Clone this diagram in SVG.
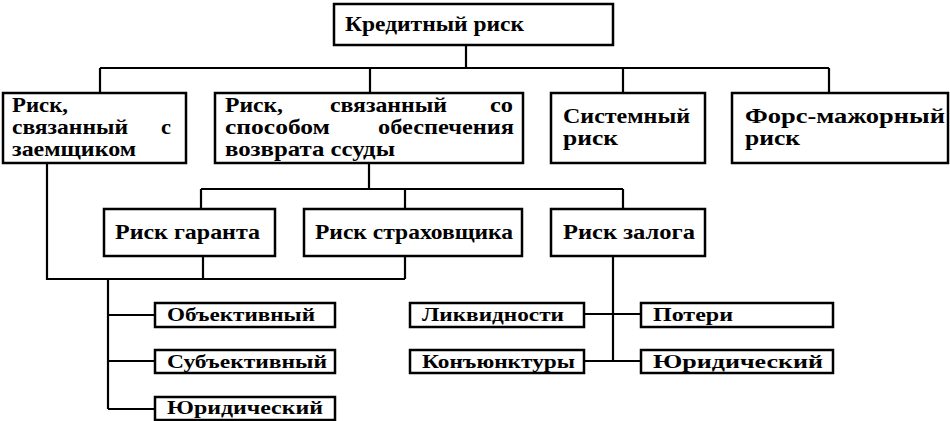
<svg xmlns="http://www.w3.org/2000/svg" width="950" height="421" viewBox="0 0 950 421">
<style>
  .box { fill: #fff; stroke: #000; stroke-width: 2.5; }
  .ln { fill: none; stroke: #000; stroke-width: 2.2; }
  text { font-family: "Liberation Serif", "Times New Roman", serif; font-weight: bold; fill: #000; }
  .t1 { font-size: 21px; }
  .t2 { font-size: 19px; }
</style>
<rect width="950" height="421" fill="#fff"/>
<g id="connectors">
  <path class="ln" d="M466 45 V68 M100 68 H829 M100 68 V93 M370 68 V93 M623 68 V93 M829 68 V93"/>
  <path class="ln" d="M369 163 V189 M201 189 H623 M201 189 V209 M405 189 V209 M623 189 V209"/>
  <path class="ln" d="M47 163 V279 H405 M203 256 V279 M405 256 V279"/>
  <path class="ln" d="M108 279 V409 M108 315 H155 M108 361 H155 M108 409 H155"/>
  <path class="ln" d="M613 256 V361 M584 314 H641 M584 361 H641"/>
</g>
<g id="n-credit">
  <rect class="box" x="334" y="4" width="279" height="41"/>
  <text class="t1" x="345" y="31" textLength="179" lengthAdjust="spacingAndGlyphs">Кредитный риск</text>
</g>
<g id="n-borrower">
  <rect class="box" x="3" y="93" width="183" height="70"/>
  <text class="t1" x="12" y="112" textLength="56" lengthAdjust="spacingAndGlyphs">Риск,</text>
  <text class="t1" x="12" y="134" textLength="116" lengthAdjust="spacingAndGlyphs">связанный</text>
  <text class="t1" x="161" y="134" textLength="10" lengthAdjust="spacingAndGlyphs">с</text>
  <text class="t1" x="12" y="156" textLength="124" lengthAdjust="spacingAndGlyphs">заемщиком</text>
</g>
<g id="n-security">
  <rect class="box" x="215" y="93" width="308" height="70"/>
  <text class="t1" x="225" y="112" textLength="58" lengthAdjust="spacingAndGlyphs">Риск,</text>
  <text class="t1" x="330" y="112" textLength="117" lengthAdjust="spacingAndGlyphs">связанный</text>
  <text class="t1" x="490" y="112" textLength="23" lengthAdjust="spacingAndGlyphs">со</text>
  <text class="t1" x="225" y="134" textLength="105" lengthAdjust="spacingAndGlyphs">способом</text>
  <text class="t1" x="378" y="134" textLength="136" lengthAdjust="spacingAndGlyphs">обеспечения</text>
  <text class="t1" x="225" y="156" textLength="170" lengthAdjust="spacingAndGlyphs">возврата ссуды</text>
</g>
<g id="n-system">
  <rect class="box" x="551" y="93" width="154" height="70"/>
  <text class="t1" x="563" y="123" textLength="127" lengthAdjust="spacingAndGlyphs">Системный</text>
  <text class="t1" x="563" y="145" textLength="55" lengthAdjust="spacingAndGlyphs">риск</text>
</g>
<g id="n-force">
  <rect class="box" x="732" y="93" width="216" height="70"/>
  <text class="t1" x="745" y="123" textLength="200" lengthAdjust="spacingAndGlyphs">Форс-мажорный</text>
  <text class="t1" x="745" y="145" textLength="55" lengthAdjust="spacingAndGlyphs">риск</text>
</g>
<g id="n-guarantor">
  <rect class="box" x="104" y="209" width="171" height="47"/>
  <text class="t1" x="115" y="239" textLength="145" lengthAdjust="spacingAndGlyphs">Риск гаранта</text>
</g>
<g id="n-insurer">
  <rect class="box" x="304" y="209" width="218" height="47"/>
  <text class="t1" x="315" y="239" textLength="198" lengthAdjust="spacingAndGlyphs">Риск страховщика</text>
</g>
<g id="n-collateral">
  <rect class="box" x="551" y="209" width="154" height="47"/>
  <text class="t1" x="563" y="239" textLength="132" lengthAdjust="spacingAndGlyphs">Риск залога</text>
</g>
<g id="n-objective">
  <rect class="box" x="155" y="303" width="180" height="24"/>
  <text class="t2" x="167" y="321" textLength="148" lengthAdjust="spacingAndGlyphs">Объективный</text>
</g>
<g id="n-subjective">
  <rect class="box" x="155" y="350" width="180" height="23"/>
  <text class="t2" x="167" y="368" textLength="160" lengthAdjust="spacingAndGlyphs">Субъективный</text>
</g>
<g id="n-legal1">
  <rect class="box" x="155" y="397" width="180" height="23"/>
  <text class="t2" x="167" y="414" textLength="156" lengthAdjust="spacingAndGlyphs">Юридический</text>
</g>
<g id="n-liquidity">
  <rect class="box" x="410" y="303" width="174" height="24"/>
  <text class="t2" x="422" y="321" textLength="142" lengthAdjust="spacingAndGlyphs">Ликвидности</text>
</g>
<g id="n-market">
  <rect class="box" x="410" y="350" width="174" height="23"/>
  <text class="t2" x="422" y="368" textLength="153" lengthAdjust="spacingAndGlyphs">Конъюнктуры</text>
</g>
<g id="n-loss">
  <rect class="box" x="641" y="303" width="192" height="24"/>
  <text class="t2" x="653" y="321" textLength="80" lengthAdjust="spacingAndGlyphs">Потери</text>
</g>
<g id="n-legal2">
  <rect class="box" x="641" y="350" width="192" height="23"/>
  <text class="t2" x="653" y="368" textLength="170" lengthAdjust="spacingAndGlyphs">Юридический</text>
</g>
</svg>
